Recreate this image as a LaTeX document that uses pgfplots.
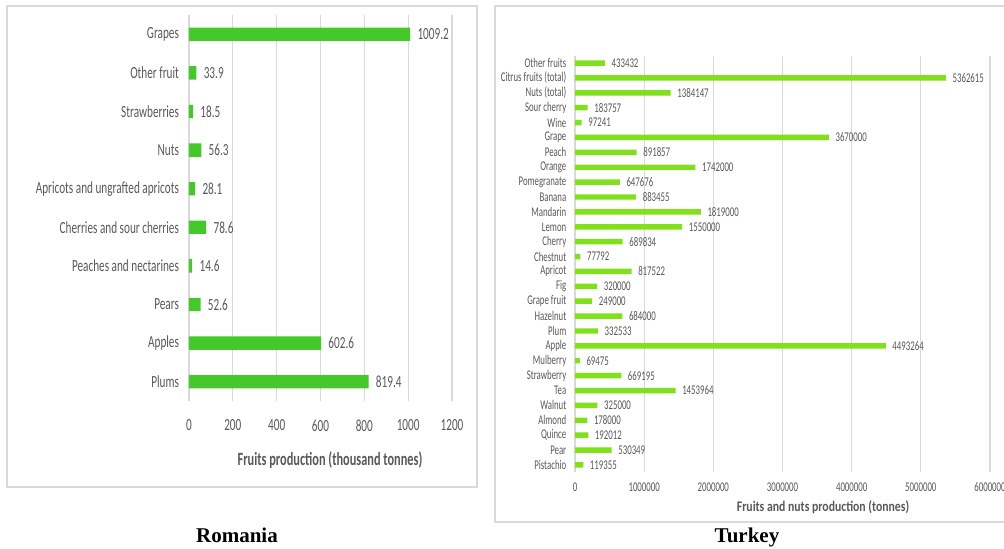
\documentclass[border=0pt]{standalone}
\usepackage{pgfplots}
\pgfplotsset{compat=1.18}
\usepackage{fontspec}
\setmainfont{Liberation Serif}
\newfontfamily\cf{Carlito}[FakeStretch=0.66]
\newfontfamily\cg{Carlito}[FakeStretch=0.8]
\definecolor{txt}{HTML}{595959}
\definecolor{grd}{HTML}{D9D9D9}
\definecolor{rogreen}{HTML}{44C82A}
\definecolor{trgreen}{HTML}{80E01C}
\begin{document}
\begin{tikzpicture}[x=0.75pt,y=0.75pt]
\path[use as bounding box] (0,0) rectangle (1004,549);
\fill[white] (0,0) rectangle (1004,549);
\draw[grd, line width=0.9pt] (7,543) rectangle (477,62);
\draw[grd, line width=0.9pt] (495,543) rectangle (1010,27);
% Romania
\begin{axis}[at={(141.75pt,111pt)}, anchor=south west, scale only axis,
  width=197.25pt, height=289.5pt,
  xbar, bar width=10pt,
  xmin=0, xmax=1200, ymin=-0.5, ymax=9.5, y dir=reverse,
  axis lines*=left, axis line style={draw=none}, major tick length=0pt,
  xmajorgrids, grid style={grd, line width=0.9pt},
  xtick={0,200,400,600,800,1000,1200},
  xticklabels={0,200,400,600,800,1000,1200},
  ytick={0,...,9},
  yticklabels={Grapes,Other fruit,Strawberries,Nuts,Apricots and ungrafted apricots,Cherries and sour cherries,Peaches and nectarines,Pears,Apples,Plums},
  xticklabel style={font=\cf\fontsize{12.75}{13}\selectfont, text=txt, yshift=-10.5pt},
  yticklabel style={font=\cf\fontsize{12.75}{13}\selectfont, text=txt, xshift=-4pt},
  /pgf/number format/assume math mode=true,
  nodes near coords, point meta=explicit symbolic,
  every node near coord/.append style={font=\cf\fontsize{12.75}{13}\selectfont, text=txt, anchor=west, xshift=2pt},
]
\addplot[fill=rogreen, draw=none] coordinates {
(1009.2,0) [1009.2]
(33.9,1) [33.9]
(18.5,2) [18.5]
(56.3,3) [56.3]
(28.1,4) [28.1]
(78.6,5) [78.6]
(14.6,6) [14.6]
(52.6,7) [52.6]
(602.6,8) [602.6]
(819.4,9) [819.4]
};
\end{axis}
% Turkey
\begin{axis}[at={(431.25pt,57.45pt)}, anchor=south west, scale only axis,
  width=311.25pt, height=312.6pt,
  xbar, bar width=4.1pt,
  xmin=0, xmax=6000000, ymin=-0.5, ymax=27.5, y dir=reverse,
  axis lines*=left, axis line style={draw=none}, major tick length=0pt,
  xmajorgrids, grid style={grd, line width=0.9pt},
  scaled x ticks=false,
  xtick={0,1000000,2000000,3000000,4000000,5000000,6000000},
  xticklabels={0,1000000,2000000,3000000,4000000,5000000,6000000},
  ytick={0,...,27},
  yticklabels={Other fruits,Citrus fruits (total),Nuts (total),Sour cherry,Wine,Grape,Peach,Orange,Pomegranate,Banana,Mandarin,Lemon,Cherry,Chestnut,Apricot,Fig,Grape fruit,Hazelnut,Plum,Apple,Mulberry,Strawberry,Tea,Walnut,Almond,Quince,Pear,Pistachio},
  xticklabel style={font=\cf\fontsize{10}{10}\selectfont, text=txt, yshift=-4pt},
  yticklabel style={font=\cf\fontsize{10}{10}\selectfont, text=txt, xshift=-3pt},
  /pgf/number format/assume math mode=true,
  nodes near coords, point meta=explicit symbolic,
  every node near coord/.append style={font=\cf\fontsize{10}{10}\selectfont, text=txt, anchor=west, xshift=1.5pt},
]
\addplot[fill=trgreen, draw=none] coordinates {
(433432,0) [433432]
(5362615,1) [5362615]
(1384147,2) [1384147]
(183757,3) [183757]
(97241,4) [97241]
(3670000,5) [3670000]
(891857,6) [891857]
(1742000,7) [1742000]
(647676,8) [647676]
(883455,9) [883455]
(1819000,10) [1819000]
(1550000,11) [1550000]
(689834,12) [689834]
(77792,13) [77792]
(817522,14) [817522]
(320000,15) [320000]
(249000,16) [249000]
(684000,17) [684000]
(332533,18) [332533]
(4493264,19) [4493264]
(69475,20) [69475]
(669195,21) [669195]
(1453964,22) [1453964]
(325000,23) [325000]
(178000,24) [178000]
(192012,25) [192012]
(530349,26) [530349]
(119355,27) [119355]
};
\end{axis}
\node[font=\cf\bfseries\fontsize{14}{14}\selectfont, text=txt] at (330,89) {Fruits production (thousand tonnes)};
\node[font=\cg\bfseries\fontsize{11}{11}\selectfont, text=txt] at (823,42) {Fruits and nuts production (tonnes)};
\node[font=\bfseries\fontsize{15.75}{16}\selectfont] at (237,14) {Romania};
\node[font=\bfseries\fontsize{15.75}{16}\selectfont] at (747,12) {Turkey};
\end{tikzpicture}
\end{document}
